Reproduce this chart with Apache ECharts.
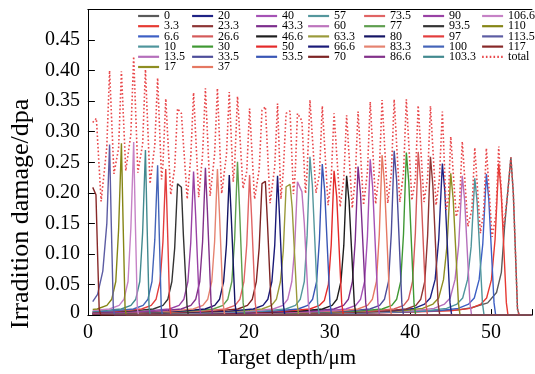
<!DOCTYPE html>
<html>
<head>
<meta charset="utf-8">
<script src="https://cdn.jsdelivr.net/npm/echarts@6/dist/echarts.min.js"></script>
<style>
  html, body { margin: 0; padding: 0; background: #fff; }
  #chart { width: 535px; height: 374px; }
</style>
</head>
<body>
<div id="chart"></div>
<script>
// damage profile of each curve: [target depth (um), dpa]
const labels = ['0', '3.3', '6.6', '10', '13.5', '17', '20', '23.3', '26.6', '30', '33.5', '37',
  '40', '43.3', '46.6', '50', '53.5', '57', '60', '63.3', '66.6', '70', '73.5', '77', '80', '83.3',
  '86.6', '90', '93.5', '97', '100', '103.3', '106.6', '110', '113.5', '117'];

const s117 = [[0.6,0.209],[1.0,0.197],[1.2,0.1],[1.4,0.01],[1.6,0],[55,0]];
const s113_5 = [[0.6,0.022],[1.2,0.034],[1.85,0.072],[2.35,0.15],[2.69,0.279],[2.9,0.15],[3.15,0.012],[3.3,0],[55,0]];
const s110 = [[0.6,0.0093],[1.16,0.010],[2.36,0.016],[2.96,0.026],[3.46,0.055],[3.81,0.14],[4.16,0.281],[4.36,0.155],[4.61,0.012],[4.76,0],[55,0]];
const s106_6 = [[0.6,0.0076],[2.68,0.010],[3.88,0.016],[4.48,0.026],[4.98,0.055],[5.33,0.142],[5.68,0.283],[5.88,0.156],[6.13,0.012],[6.28,0],[55,0]];
const s103_3 = [[0.6,0.0063],[1.14,0.0065],[4.14,0.010],[5.34,0.016],[5.94,0.026],[6.44,0.055],[6.79,0.135],[7.14,0.270],[7.34,0.149],[7.59,0.012],[7.74,0],[55,0]];
const s100 = [[0.6,0.0057],[2.65,0.0065],[5.65,0.010],[6.85,0.016],[7.45,0.026],[7.95,0.055],[8.3,0.123],[8.65,0.245],[8.85,0.135],[9.1,0.012],[9.25,0],[55,0]];
const s97 = [[0.6,0.0053],[3.66,0.0065],[6.66,0.010],[7.86,0.016],[8.46,0.026],[8.96,0.055],[9.31,0.12],[9.66,0.239],[9.88,0.14],[10.15,0.015],[10.3,0],[55,0]];
const s93_5 = [[0.6,0.0048],[5.12,0.0065],[8.12,0.010],[9.32,0.016],[9.92,0.026],[10.42,0.055],[10.77,0.11],[11.12,0.215],[11.6,0.209],[11.85,0.13],[12.3,0.015],[12.45,0],[55,0]];
const s90 = [[0.6,0.0041],[1.11,0.0042],[7.11,0.0065],[10.11,0.010],[11.31,0.016],[11.91,0.026],[12.41,0.055],[12.76,0.118],[13.11,0.235],[13.36,0.165],[13.81,0.02],[14.01,0],[55,0]];
const s86_6 = [[0.6,0.0038],[2.58,0.0042],[8.58,0.0065],[11.58,0.010],[12.78,0.016],[13.38,0.026],[13.88,0.055],[14.23,0.12],[14.58,0.241],[14.83,0.169],[15.28,0.02],[15.48,0],[55,0]];
const s83_3 = [[0.6,0.0034],[4.07,0.0042],[10.07,0.0065],[13.07,0.010],[14.27,0.016],[14.87,0.026],[15.37,0.055],[15.72,0.12],[16.07,0.239],[16.32,0.167],[16.77,0.02],[16.97,0],[55,0]];
const s80 = [[0.6,0.0031],[5.54,0.0042],[11.54,0.0065],[14.54,0.010],[15.74,0.016],[16.34,0.026],[16.84,0.055],[17.19,0.115],[17.54,0.229],[17.79,0.16],[18.24,0.02],[18.44,0],[55,0]];
const s77 = [[0.6,0.0029],[6.56,0.0042],[12.56,0.0065],[15.56,0.010],[16.76,0.016],[17.36,0.026],[17.86,0.055],[18.21,0.125],[18.56,0.251],[18.81,0.176],[19.26,0.02],[19.46,0],[55,0]];
const s73_5 = [[0.6,0.0025],[8.06,0.0042],[14.06,0.0065],[17.06,0.010],[18.26,0.016],[18.86,0.026],[19.36,0.055],[19.71,0.115],[20.06,0.229],[20.31,0.16],[20.76,0.02],[20.96,0],[55,0]];
const s70 = [[0.6,0.0019],[1.6,0.0024],[9.6,0.0042],[15.6,0.0065],[18.6,0.010],[19.8,0.016],[20.4,0.026],[20.9,0.055],[21.25,0.11],[21.6,0.215],[22.02,0.219],[22.27,0.153],[22.72,0.02],[22.92,0],[55,0]];
const s66_6 = [[0.6,0.0018],[3.53,0.0024],[11.53,0.0042],[17.53,0.0065],[20.53,0.010],[21.73,0.016],[22.33,0.026],[22.83,0.055],[23.18,0.114],[23.53,0.228],[23.78,0.16],[24.23,0.02],[24.43,0],[55,0]];
const s63_3 = [[0.6,0.0018],[4.59,0.0024],[12.59,0.0042],[18.59,0.0065],[21.59,0.010],[22.79,0.016],[23.39,0.026],[23.89,0.055],[24.24,0.105],[24.59,0.21],[25.08,0.214],[25.35,0.175],[25.95,0.02],[26.15,0],[55,0]];
const s60 = [[0.6,0.0018],[6.0,0.0024],[14.0,0.0042],[20.0,0.0065],[23.0,0.010],[24.2,0.016],[24.8,0.026],[25.3,0.055],[25.65,0.109],[26.0,0.218],[26.55,0.202],[26.85,0.15],[27.35,0.02],[27.55,0],[55,0]];
const s57 = [[0.6,0.0018],[7.55,0.0024],[15.55,0.0042],[21.55,0.0065],[24.55,0.010],[25.75,0.016],[26.35,0.026],[26.85,0.055],[27.2,0.13],[27.55,0.259],[27.85,0.212],[28.5,0.02],[28.7,0],[55,0]];
const s53_5 = [[0.6,0.0018],[9.08,0.0024],[17.08,0.0042],[23.08,0.0065],[26.08,0.010],[27.28,0.016],[27.88,0.026],[28.38,0.055],[28.73,0.124],[29.08,0.247],[29.38,0.203],[30.03,0.02],[30.23,0],[55,0]];
const s50 = [[0.6,0.0018],[10.54,0.0024],[18.54,0.0042],[24.54,0.0065],[27.54,0.010],[28.74,0.016],[29.34,0.024],[29.84,0.05],[30.19,0.115],[30.54,0.236],[30.87,0.194],[31.49,0.02],[31.69,0],[55,0]];
const s46_6 = [[0.6,0.0018],[12.1,0.0024],[20.1,0.0042],[26.1,0.0065],[29.1,0.010],[30.3,0.016],[30.9,0.026],[31.4,0.055],[31.75,0.114],[32.1,0.228],[32.4,0.187],[33.05,0.02],[33.25,0],[55,0]];
const s43_3 = [[0.6,0.0018],[13.52,0.0024],[21.52,0.0042],[27.52,0.0065],[30.52,0.010],[31.72,0.016],[32.32,0.026],[32.82,0.055],[33.17,0.122],[33.52,0.243],[33.82,0.199],[34.47,0.02],[34.67,0],[55,0]];
const s40 = [[0.6,0.0018],[15.03,0.0024],[23.03,0.0042],[29.03,0.0065],[32.03,0.010],[33.23,0.016],[33.83,0.026],[34.33,0.055],[34.68,0.128],[35.03,0.255],[35.33,0.209],[35.98,0.02],[36.18,0],[55,0]];
const s37 = [[0.6,0.0018],[16.5,0.0024],[24.5,0.0042],[30.5,0.0065],[33.5,0.010],[34.7,0.016],[35.3,0.026],[35.8,0.055],[36.15,0.131],[36.5,0.262],[36.8,0.215],[37.45,0.02],[37.65,0],[55,0]];
const s33_5 = [[0.6,0.0018],[18.0,0.0024],[26.0,0.0042],[32.0,0.0065],[35.0,0.010],[36.2,0.016],[36.8,0.026],[37.3,0.055],[37.65,0.135],[38.0,0.269],[38.3,0.221],[38.95,0.02],[39.15,0],[55,0]];
const s30 = [[0.6,0.0018],[19.51,0.0024],[27.51,0.0042],[33.51,0.0065],[36.51,0.010],[37.71,0.016],[38.31,0.026],[38.81,0.055],[39.16,0.133],[39.51,0.266],[39.81,0.218],[40.46,0.02],[40.66,0],[55,0]];
const s26_6 = [[0.6,0.0018],[20.98,0.0024],[28.98,0.0042],[34.98,0.0065],[37.98,0.010],[39.18,0.016],[39.78,0.026],[40.28,0.055],[40.63,0.134],[40.98,0.267],[41.28,0.219],[41.93,0.02],[42.13,0],[55,0]];
const s23_3 = [[0.6,0.0018],[22.5,0.0024],[30.5,0.0042],[36.5,0.0065],[39.5,0.010],[40.7,0.016],[41.3,0.026],[41.8,0.055],[42.15,0.13],[42.5,0.259],[42.8,0.212],[43.45,0.02],[43.65,0],[55,0]];
const s20 = [[0.6,0.0018],[23.98,0.0025],[31.98,0.0045],[37.98,0.0072],[40.48,0.011],[41.78,0.018],[42.48,0.028],[43.08,0.058],[43.53,0.124],[43.98,0.248],[44.28,0.203],[44.93,0.02],[45.13,0],[55,0]];
const s17 = [[0.6,0.0018],[25.02,0.0025],[33.02,0.0045],[39.02,0.0072],[41.52,0.011],[42.82,0.018],[43.52,0.028],[44.12,0.058],[44.57,0.116],[45.02,0.232],[45.32,0.19],[45.97,0.02],[46.17,0],[55,0]];
const s13_5 = [[0.6,0.0018],[26.45,0.0025],[34.45,0.0045],[40.45,0.0072],[42.95,0.011],[44.25,0.018],[44.95,0.028],[45.55,0.058],[46.0,0.114],[46.45,0.228],[46.75,0.187],[47.4,0.02],[47.6,0],[55,0]];
const s10 = [[0.6,0.0018],[28.0,0.0025],[36.0,0.0045],[42.0,0.0072],[44.5,0.011],[45.8,0.018],[46.5,0.028],[47.1,0.058],[47.55,0.112],[48.0,0.224],[48.3,0.184],[48.95,0.02],[49.15,0],[55,0]];
const s6_6 = [[0.6,0.0018],[29.44,0.0025],[37.44,0.0045],[43.44,0.0072],[45.94,0.011],[47.24,0.018],[47.94,0.028],[48.54,0.058],[48.99,0.116],[49.44,0.231],[49.74,0.189],[50.39,0.02],[50.59,0],[55,0]];
const s3_3 = [[0.6,0.0018],[30.97,0.0025],[38.97,0.0045],[44.97,0.0072],[47.47,0.011],[48.77,0.018],[49.47,0.028],[50.07,0.058],[50.52,0.124],[50.97,0.248],[51.27,0.203],[51.92,0.02],[52.12,0],[55,0]];
const s0 = [[0.6,0.0018],[30.0,0.0026],[40.0,0.0052],[46.0,0.0085],[47.6,0.012],[49.6,0.02],[50.7,0.037],[51.3,0.07],[51.7,0.145],[52.48,0.258],[52.78,0.2],[53.3,0.01],[53.5,0],[55,0]];

const total = [[0.6,0.315],[1.05,0.322],[1.64,0.186],[2.34,0.274],[2.69,0.4],
  [3.23,0.231],[3.81,0.273],[4.16,0.399],[4.7,0.236],[5.33,0.296],[5.68,0.423],
  [6.2,0.233],[6.79,0.28],[7.14,0.402],[7.71,0.215],[8.3,0.278],[8.65,0.388],
  [9.14,0.222],[9.31,0.246],[9.66,0.354],[10.28,0.197],[10.77,0.241],[11.12,0.338],[11.6,0.33],
  [12.32,0.19],[12.76,0.258],[13.11,0.364],[13.75,0.193],[14.23,0.263],[14.58,0.371],
  [15.17,0.195],[15.72,0.263],[16.07,0.371],[16.6,0.199],[17.19,0.262],[17.54,0.365],
  [18.03,0.218],[18.21,0.245],[18.56,0.358],[19.25,0.207],[19.71,0.235],[20.06,0.338],
  [20.68,0.19],[21.25,0.238],[21.6,0.335],[22.02,0.341],[22.6,0.183],[23.18,0.243],[23.53,0.346],
  [23.95,0.19],[24.24,0.235],[24.59,0.33],[25.08,0.334],[25.5,0.198],[25.72,0.232],[26.0,0.33],[26.55,0.318],
  [27.0,0.199],[27.2,0.235],[27.55,0.352],[28.3,0.2],[28.73,0.231],[29.08,0.342],
  [29.8,0.18],[30.19,0.224],[30.54,0.33],[31.3,0.177],[31.75,0.224],[32.1,0.327],
  [32.8,0.175],[33.17,0.224],[33.52,0.333],[34.2,0.18],[34.68,0.234],[35.03,0.349],
  [35.7,0.182],[36.15,0.234],[36.5,0.352],[37.2,0.183],[37.65,0.232],[38.0,0.353],
  [38.7,0.185],[39.16,0.233],[39.51,0.353],[40.2,0.188],[40.63,0.223],[40.98,0.343],
  [41.7,0.185],[42.15,0.225],[42.5,0.342],[43.2,0.18],[43.6,0.221],[43.98,0.333],
  [44.45,0.172],[44.72,0.188],[45.02,0.292],[45.7,0.161],[46.1,0.181],[46.45,0.284],
  [47.15,0.145],[47.65,0.173],[48.0,0.274],[48.7,0.134],[49.1,0.169],[49.44,0.273],
  [50.15,0.128],[50.62,0.164],[50.97,0.276],[51.55,0.14],[52.1,0.2],[52.48,0.258],
  [52.78,0.2],[53.3,0.01],[53.5,0]];

const curves = [s0, s3_3, s6_6, s10, s13_5, s17, s20, s23_3, s26_6, s30, s33_5, s37,
  s40, s43_3, s46_6, s50, s53_5, s57, s60, s63_3, s66_6, s70, s73_5, s77, s80, s83_3,
  s86_6, s90, s93_5, s97, s100, s103_3, s106_6, s110, s113_5, s117];

const colors = ['#5a5a5a', '#e63a33', '#3d5fc4', '#4f959c', '#b56fbb', '#8e8e22', '#1f2385', '#8d3434',
  '#d45a5a', '#3f9833', '#4d4d9a', '#e57862', '#a552b5', '#7c2d8c', '#1e1e1e', '#e42a2a', '#3956b5',
  '#55979d', '#bd74bd', '#9a9a3a', '#1a1a78', '#7d2424', '#e06464', '#5e9e4e', '#141464', '#e58370',
  '#82318a', '#9942a5', '#333333', '#e33d3d', '#4464b8', '#42898f', '#c682c6', '#858515', '#5c5ca3', '#872828'];
const totalColor = '#e8474a';

// legend columns as in the figure
const legendCols = [
  ['0', '3.3', '6.6', '10', '13.5', '17'],
  ['20', '23.3', '26.6', '30', '33.5', '37'],
  ['40', '43.3', '46.6', '50', '53.5'],
  ['57', '60', '63.3', '66.6', '70'],
  ['73.5', '77', '80', '83.3', '86.6'],
  ['90', '93.5', '97', '100', '103.3'],
  ['106.6', '110', '113.5', '117', 'total']
];
const legendLeft = [137, 191, 255, 307, 363, 422, 481];

const font = 'Liberation Serif';
const xMax = 55.1;
const chart = echarts.init(document.getElementById('chart'));

const series = labels.map((name, i) => ({
  name: name,
  type: 'line',
  data: curves[i],
  symbol: 'none',
  silent: true,
  lineStyle: { width: 1.4, color: colors[i] },
  itemStyle: { color: colors[i] }
}));
series.push({
  name: 'total',
  type: 'line',
  data: total,
  symbol: 'none',
  silent: true,
  lineStyle: { width: 1.6, color: totalColor, type: [1.6, 2.2] },
  itemStyle: { color: totalColor }
});

const option = {
  animation: false,
  backgroundColor: '#fff',
  textStyle: { fontFamily: font },
  grid: { left: 84.3, top: 9.5, bottom: 54.7, right: 0 },
  legend: legendCols.map((col, k) => ({
    data: col,
    orient: 'vertical',
    left: legendLeft[k],
    top: 10,
    padding: 0,
    itemWidth: 21,
    itemHeight: 10,
    itemGap: -1.8,
    selectedMode: false,
    itemStyle: { opacity: 0 },
    lineStyle: { width: 2.2 },
    textStyle: { fontFamily: font, fontSize: 12, color: '#000' }
  })),
  xAxis: [{
    type: 'value',
    min: 0,
    max: xMax,
    interval: 10,
    name: 'Target depth/μm',
    nameLocation: 'middle',
    nameGap: 32,
    nameTextStyle: { fontFamily: font, fontSize: 21, color: '#000', padding: [0, 46, 0, 0] },
    axisLine: { lineStyle: { color: '#000', width: 1 } },
    axisTick: { inside: true, length: 6, lineStyle: { color: '#000' } },
    axisLabel: {
      fontFamily: font, fontSize: 20, color: '#000', margin: 8,
      formatter: v => (v > 55 ? '' : String(v))
    },
    splitLine: { show: false }
  }, {
    // top frame line only
    type: 'value',
    position: 'top',
    min: 0,
    max: xMax,
    axisLine: { show: true, lineStyle: { color: '#000', width: 1 } },
    axisTick: { show: false },
    axisLabel: { show: false },
    splitLine: { show: false }
  }],
  yAxis: {
    type: 'value',
    min: 0,
    max: 0.5,
    interval: 0.05,
    name: 'Irradition damage/dpa',
    nameLocation: 'middle',
    nameGap: 50,
    nameTextStyle: { fontFamily: font, fontSize: 26, color: '#000', padding: [0, 103, 0, 0] },
    axisLine: { lineStyle: { color: '#000', width: 1 } },
    axisTick: { inside: true, length: 7, lineStyle: { color: '#000' } },
    axisLabel: {
      fontFamily: font, fontSize: 20, color: '#000', margin: 8,
      formatter: v => (v === 0 ? '{z|0}' : (v > 0.49 ? '' : v.toFixed(2))),
      rich: { z: { fontFamily: font, fontSize: 20, color: '#000', padding: [0, 0, 5, 0] } }
    },
    splitLine: { show: false }
  },
  series: series
};

chart.setOption(option);
</script>
</body>
</html>
